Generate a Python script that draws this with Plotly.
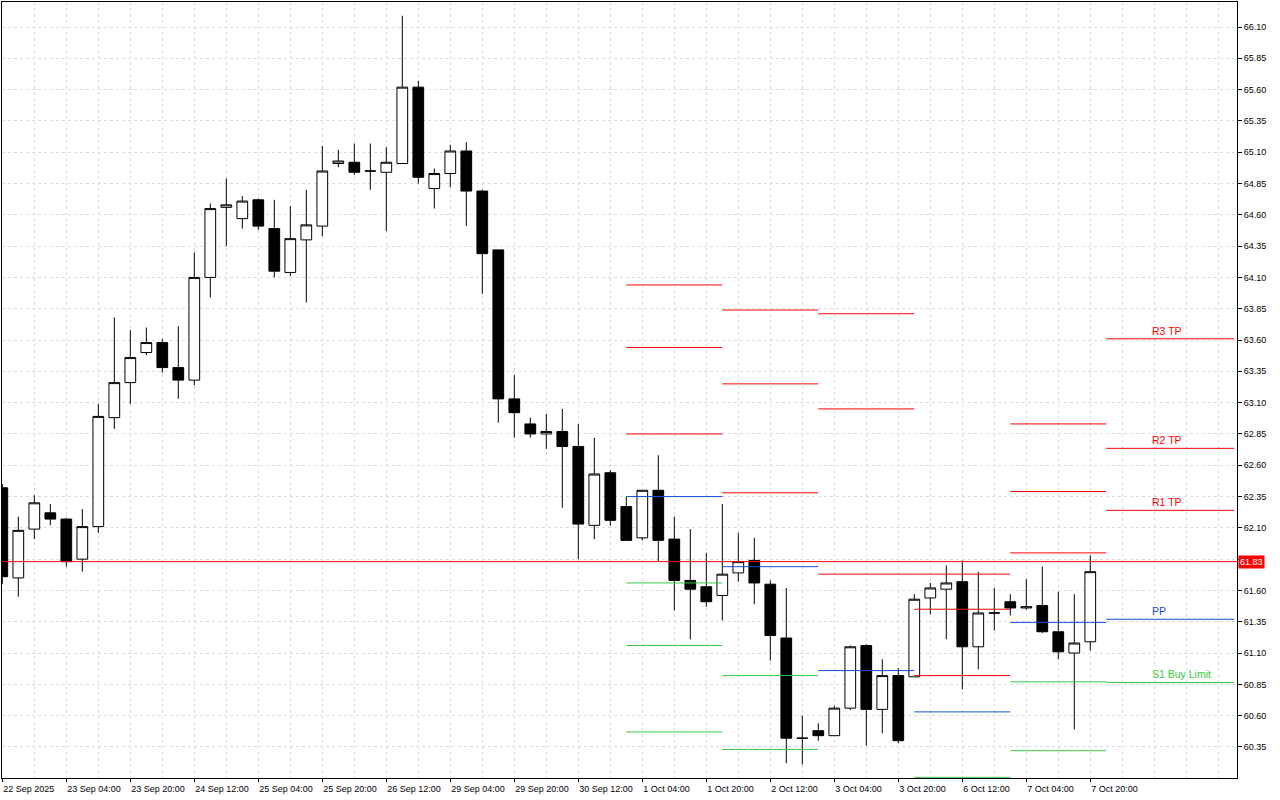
import plotly.graph_objects as go

COLORS = {
    'bg': '#ffffff',
    'fg': '#000000',
    'grid': '#dcdcdc',
    'red': '#ff0000',
    'blue': '#1050d8',
    'green': '#3cc83c',
}
FONT = 'Liberation Sans, Arial, sans-serif'

# ============================================================
# Data: H4 candles (index 0 = 22 Sep 2025 12:00)
# ============================================================
opens = [62.42, 61.70, 62.09, 62.22, 62.17, 61.85, 62.11, 62.98, 63.26, 63.50,
         63.58, 63.38, 63.28, 64.10, 64.66, 64.57, 64.72, 64.49, 64.14, 64.40,
         64.51, 65.01, 65.02, 64.95, 64.94, 65.01, 65.62, 64.81, 64.93, 65.11,
         64.79, 64.32, 63.13, 62.93, 62.85, 62.87, 62.75, 62.12, 62.54, 62.27,
         62.02, 62.40, 62.01, 61.68, 61.63, 61.56, 61.74, 61.84, 61.65, 61.22,
         60.42, 60.48, 60.44, 60.66, 61.16, 60.65, 60.92, 60.91, 61.54, 61.61,
         61.67, 61.15, 61.42, 61.51, 61.46, 61.48, 61.27, 61.10, 61.19]
highs = [62.45, 62.19, 62.36, 62.29, 62.18, 62.25, 63.09, 63.78, 63.68, 63.70,
         63.61, 63.71, 64.30, 64.69, 64.89, 64.75, 64.73, 64.72, 64.67, 64.80,
         65.15, 65.12, 65.17, 65.17, 65.14, 66.19, 65.67, 64.97, 65.16, 65.18,
         64.80, 64.32, 63.32, 62.98, 63.01, 63.05, 62.93, 62.82, 62.56, 62.35,
         62.40, 62.68, 62.19, 62.09, 61.90, 62.29, 62.06, 62.02, 61.68, 61.62,
         60.60, 60.54, 60.68, 61.16, 61.17, 61.05, 60.98, 61.57, 61.66, 61.80,
         61.84, 61.75, 61.62, 61.57, 61.69, 61.79, 61.59, 61.57, 61.88]
lows = [61.65, 61.55, 62.01, 62.12, 61.79, 61.75, 62.06, 62.89, 63.09, 63.48,
        63.34, 63.13, 63.24, 63.94, 64.35, 64.49, 64.48, 64.10, 64.11, 63.90,
        64.43, 64.98, 64.92, 64.80, 64.47, 65.01, 64.85, 64.65, 64.82, 64.51,
        63.97, 62.94, 62.82, 62.82, 62.73, 62.26, 61.85, 62.01, 62.12, 62.00,
        62.00, 61.83, 61.44, 61.21, 61.47, 61.36, 61.67, 61.49, 61.04, 60.22,
        60.21, 60.40, 60.44, 60.645, 60.36, 60.46, 60.38, 60.91, 61.41, 61.21,
        60.81, 60.97, 61.28, 61.40, 61.445, 61.26, 61.05, 60.49, 61.12]
closes = [61.71, 62.08, 62.30, 62.17, 61.83, 62.11, 62.99, 63.26, 63.46, 63.58,
          63.38, 63.28, 64.10, 64.65, 64.68, 64.71, 64.51, 64.15, 64.41, 64.52,
          64.95, 65.03, 64.94, 64.95, 65.02, 65.62, 64.90, 64.93, 65.11, 64.79,
          64.29, 63.13, 63.02, 62.85, 62.87, 62.75, 62.13, 62.53, 62.16, 62.00,
          62.40, 62.00, 61.68, 61.61, 61.51, 61.73, 61.83, 61.66, 61.24, 60.42,
          60.42, 60.44, 60.66, 61.15, 60.65, 60.92, 60.40, 61.53, 61.62, 61.66,
          61.15, 61.42, 61.42, 61.46, 61.47, 61.27, 61.11, 61.18, 61.75]

time_labels = ['22 Sep 2025', '23 Sep 04:00', '23 Sep 20:00', '24 Sep 12:00',
               '25 Sep 04:00', '25 Sep 20:00', '26 Sep 12:00', '29 Sep 04:00',
               '29 Sep 20:00', '30 Sep 12:00', '1 Oct 04:00', '1 Oct 20:00',
               '2 Oct 12:00', '3 Oct 04:00', '3 Oct 20:00', '6 Oct 12:00',
               '7 Oct 04:00', '7 Oct 20:00']
price_ticks = [60.35, 60.60, 60.85, 61.10, 61.35, 61.60, 61.85, 62.10, 62.35,
               62.60, 62.85, 63.10, 63.35, 63.60, 63.85, 64.10, 64.35, 64.60,
               64.85, 65.10, 65.35, 65.60, 65.85, 66.10]
current_price = 61.83

# Daily pivot levels (one entry per day: 1, 2, 3, 6, 7, 8 Oct)
day_start = [39, 45, 51, 57, 63, 69]
day_end = [45, 51, 57, 63, 69, 77]
r3 = [64.04, 63.84, 63.81, 61.73, 62.93, 63.61]
r2 = [63.54, 63.25, 63.05, 61.45, 62.39, 62.735]
r1 = [62.85, 62.38, 61.73, 60.92, 61.90, 62.24]
pp = [62.35, 61.79, 60.96, 60.63, 61.345, 61.37]
s1 = [61.66, 60.92, None, 60.107, 60.87, 60.865]
s2 = [61.16, 60.33, None, None, 60.32, None]
s3 = [60.47, None, None, None, None, None]

level_names = ['R3 TP', 'R2 TP', 'R1 TP', 'PP', 'S1 Buy Limit']
label_index = 72

# ============================================================
# Figure
# ============================================================
idx = list(range(len(opens)))

fig = go.Figure()
fig.add_trace(go.Candlestick(
    x=idx, open=opens, high=highs, low=lows, close=closes,
    increasing=dict(fillcolor=COLORS['bg'], line=dict(color=COLORS['fg'], width=1)),
    decreasing=dict(fillcolor=COLORS['fg'], line=dict(color=COLORS['fg'], width=1)),
    whiskerwidth=0, hoverinfo='skip', showlegend=False,
))

def segments(levels):
    xs, ys = [], []
    for x0, x1, v in zip(day_start, day_end, levels):
        if v is None:
            continue
        xs += [x0, x1, None]
        ys += [v, v, None]
    return xs, ys

for levels, color in [(r3, 'red'), (r2, 'red'), (r1, 'red'), (pp, 'blue'),
                      (s1, 'green'), (s2, 'green'), (s3, 'green')]:
    xs, ys = segments(levels)
    fig.add_trace(go.Scatter(x=xs, y=ys, mode='lines', hoverinfo='skip',
                             line=dict(color=COLORS[color], width=1), showlegend=False))

# labels of the projected (last) day
for name, levels, color in zip(level_names, [r3, r2, r1, pp, s1],
                               ['red', 'red', 'red', 'blue', 'green']):
    fig.add_annotation(x=label_index, y=levels[-1], text=name, showarrow=False,
                       xanchor='left', yanchor='bottom', xshift=-4, yshift=0,
                       font=dict(family=FONT, size=10.5, color=COLORS[color]))

# current price line + axis tag
fig.add_hline(y=current_price, line=dict(color=COLORS['red'], width=1))
fig.add_annotation(x=1, xref='paper', y=current_price, text=f'{current_price:.2f}',
                   showarrow=False, xanchor='left', xshift=1, bgcolor=COLORS['red'],
                   borderpad=1, font=dict(family=FONT, size=9, color='#ffffff'))

grid = dict(showgrid=True, gridcolor=COLORS['grid'], griddash='3px,3px', gridwidth=1)

fig.update_xaxes(
    range=[-0.02, 77.17],
    tickvals=idx[::4], ticktext=time_labels,
    ticks='outside', ticklen=3, tickcolor=COLORS['fg'],
    ticklabelposition='outside right', ticklabelstandoff=2,
    showline=True, mirror=True, linecolor=COLORS['fg'], linewidth=1,
    zeroline=False, rangeslider_visible=False,
    minor=dict(dtick=2, tick0=0, ticks='', **grid),
    **grid,
)
fig.update_yaxes(
    side='right', range=[60.102, 66.30],
    tickvals=price_ticks,
    ticktext=['' if abs(v - current_price) < 0.05 else f'{v:.2f}' for v in price_ticks],
    ticks='outside', ticklen=4, tickcolor=COLORS['fg'],
    showline=True, mirror=True, linecolor=COLORS['fg'], linewidth=1,
    zeroline=False, **grid,
)
fig.update_layout(
    width=1280, height=800,
    template=None,
    paper_bgcolor=COLORS['bg'], plot_bgcolor=COLORS['bg'],
    font=dict(family=FONT, size=9, color=COLORS['fg']),
    margin=dict(l=2, r=43, t=2, b=22, autoexpand=False),
    showlegend=False,
    boxgap=0.33, boxgroupgap=0,
)

# page body has a default 8px margin; drop it so the chart fills the window
fig.write_html("out.html", config={'displayModeBar': False},
               post_script="document.body.style.margin='0';")
